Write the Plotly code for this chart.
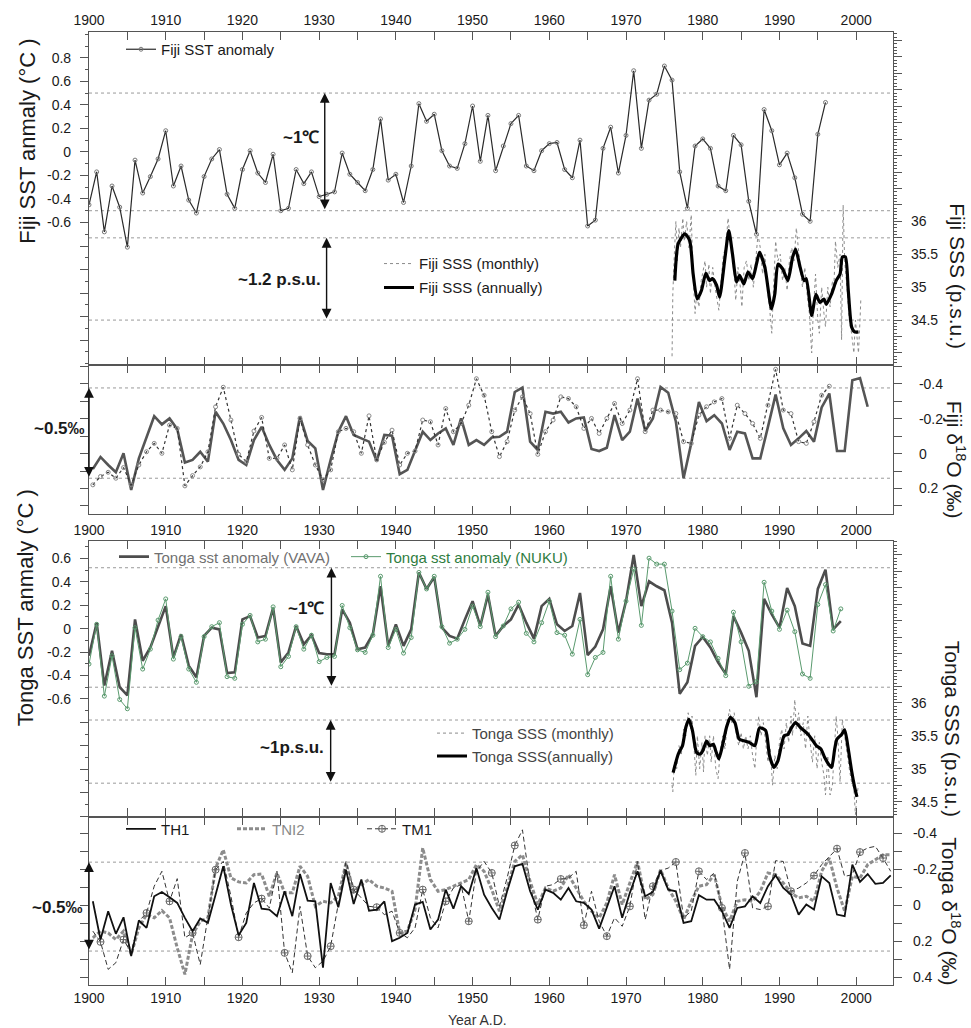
import plotly.graph_objects as go

# ------------------------------------------------------------------ data
fiji_sst_years = list(range(1900, 1997))
fiji_sst = [-0.45, -0.17, -0.68, -0.29, -0.47, -0.81, -0.07, -0.35, -0.21, -0.06,
            0.18, -0.29, -0.12, -0.41, -0.52, -0.21, -0.06, 0.02, -0.36, -0.48,
            -0.15, 0.01, -0.18, -0.26, -0.02, -0.50, -0.48, -0.15, -0.27, -0.17,
            -0.38, -0.36, -0.34, -0.01, -0.19, -0.26, -0.33, -0.15, 0.28, -0.24,
            -0.19, -0.43, -0.12, 0.41, 0.26, 0.32, 0.01, -0.12, -0.14, 0.07,
            0.39, -0.08, 0.31, -0.16, 0.05, 0.24, 0.31, -0.12, -0.16, 0.01,
            0.07, 0.08, -0.15, -0.22, 0.10, -0.63, -0.58, 0.03, 0.21, -0.18,
            0.14, 0.69, 0.03, 0.44, 0.49, 0.73, 0.61, -0.17, -0.48, 0.05,
            0.11, 0.03, -0.29, -0.33, 0.14, 0.06, -0.42, -0.70, 0.36, 0.18,
            -0.11, -0.01, -0.22, -0.53, -0.59, 0.15, 0.42]

fiji_sss_month_t = [1976.0, 1976.1, 1976.3, 1976.5, 1976.7, 1976.9, 1977.1, 1977.4, 1977.6, 1977.9,
                    1978.2, 1978.5, 1978.7, 1979.0, 1979.2, 1979.5, 1979.8, 1980.1, 1980.3, 1980.5,
                    1980.8, 1981.0, 1981.3, 1981.6, 1981.9, 1982.1, 1982.4, 1982.7, 1983.0, 1983.3,
                    1983.6, 1983.9, 1984.1, 1984.3, 1984.6, 1984.9, 1985.1, 1985.4, 1985.7, 1986.0,
                    1986.3, 1986.6, 1986.9, 1987.2, 1987.5, 1987.8, 1988.1, 1988.4, 1988.7, 1989.0,
                    1989.2, 1989.5, 1989.8, 1990.1, 1990.4, 1990.7, 1991.0, 1991.3, 1991.6, 1991.9,
                    1992.2, 1992.5, 1992.8, 1993.0, 1993.3, 1993.6, 1993.9, 1994.2, 1994.4, 1994.7,
                    1995.0, 1995.2, 1995.5, 1995.8, 1996.0, 1996.3, 1996.6, 1996.9, 1997.1, 1997.3,
                    1997.6, 1997.9, 1998.1, 1998.3, 1998.5, 1998.8, 1999.1, 1999.4, 1999.7, 1999.9,
                    2000.1, 2000.3, 2000.5, 2000.6]
fiji_sss_month_v = [33.95, 34.9, 35.5, 36.0, 35.4, 35.9, 35.6, 36.05, 35.7, 36.0,
                    35.6, 36.1, 35.3, 34.6, 34.9, 34.7, 35.1, 35.3, 35.4, 35.0,
                    35.35, 34.9, 35.3, 35.0, 34.75, 34.65, 35.1, 35.5, 35.6, 36.05,
                    35.7, 35.4, 35.2, 34.8, 35.3, 35.0, 34.7, 35.3, 35.4, 35.1,
                    35.35, 35.0, 35.4, 35.8, 35.6, 35.2, 35.5, 35.0, 34.7, 34.3,
                    34.9, 35.7, 35.4, 35.5, 35.1, 35.3, 34.95, 35.4, 35.6, 35.4,
                    35.9, 35.5, 35.2, 35.0, 35.3, 34.9, 34.6, 34.0, 34.6, 35.2,
                    34.5, 34.3, 35.0, 34.6, 34.4, 35.0, 34.7, 35.1, 35.0, 35.7,
                    35.3, 35.5, 34.2, 36.25, 35.4, 35.0, 34.5, 34.3, 34.0, 34.5,
                    34.2, 34.0, 34.5, 34.8]
fiji_sss_annual_t = [1976.36, 1976.8, 1977.66, 1978.3, 1978.75, 1979.27, 1979.83, 1980.4, 1980.9, 1981.27,
                     1981.8, 1982.2, 1982.9, 1983.4, 1983.88, 1984.4, 1984.8, 1985.36, 1985.9, 1986.5,
                     1987.0, 1987.4, 1988.1, 1988.96, 1989.4, 1989.8, 1990.4, 1991.1, 1991.7, 1992.1,
                     1992.7, 1993.2, 1993.5, 1994.2, 1994.75, 1995.27, 1995.8, 1996.1, 1996.8, 1997.4,
                     1997.9, 1998.2, 1998.6, 1998.97, 1999.4, 1999.8, 2000.3]
fiji_sss_annual_v = [35.10, 35.66, 35.81, 35.71, 35.20, 34.82, 34.95, 35.21, 35.10, 35.13,
                     35.03, 34.85, 35.45, 35.86, 35.50, 35.08, 35.18, 35.05, 35.23, 35.13,
                     35.35, 35.53, 35.30, 34.67, 34.90, 35.35, 35.28, 35.10, 35.45, 35.58,
                     35.30, 35.10, 35.13, 34.57, 34.89, 34.77, 34.82, 34.74, 34.90, 35.10,
                     35.20, 35.46, 35.46, 34.95, 34.40, 34.32, 34.32]

fiji_d18o_years = [y + 0.5 for y in range(1900, 2002)]
fiji_d18o_solid = [0.088, 0.019, 0.065, 0.107, -0.002, 0.208, 0.027, -0.088, -0.215, -0.168,
                   -0.202, -0.141, 0.051, 0.036, -0.011, 0.046, -0.240, -0.173, -0.078, 0.036,
                   0.065, -0.078, -0.154, -0.050, 0.036, 0.093, 0.027, -0.215, -0.073, -0.030,
                   0.208, 0.036, -0.126, -0.215, -0.107, -0.088, -0.069, 0.042, -0.107, -0.103,
                   0.118, 0.093, -0.011, -0.126, -0.078, -0.116, -0.145, -0.050, -0.202, -0.050,
                   -0.078, -0.050, -0.093, -0.097, -0.126, -0.354, -0.379, -0.069, -0.021, -0.240,
                   -0.230, -0.240, -0.179, -0.202, -0.208, -0.027, -0.015, -0.034, -0.221, -0.078,
                   -0.126, -0.316, -0.130, -0.202, -0.383, -0.350, -0.183, 0.141, -0.059, -0.297,
                   -0.187, -0.221, -0.173, -0.021, -0.126, -0.116, 0.027, 0.027, -0.154, -0.339,
                   -0.145, -0.050, -0.088, -0.130, -0.069, -0.265, -0.345, -0.015, -0.015, -0.421,
                   -0.434, -0.269]
fiji_d18o_dot_years = [y + 0.5 for y in range(1900, 1997)]
fiji_d18o_dotted = [0.179, 0.131, 0.107, 0.141, 0.080, 0.179, 0.065, -0.011, -0.059, -0.002,
                    -0.164, -0.145, 0.185, 0.126, 0.076, -0.011, -0.269, -0.381, -0.193, 0.004,
                    0.046, -0.130, -0.208, 0.027, 0.027, -0.050, 0.093, -0.202, -0.050, 0.065,
                    0.150, 0.093, -0.126, -0.145, -0.126, -0.002, -0.217, 0.036, -0.065, -0.135,
                    0.065, -0.002, -0.015, -0.193, -0.183, -0.050, -0.259, -0.126, -0.173, -0.278,
                    -0.430, -0.335, -0.126, 0.017, -0.069, -0.250, -0.326, -0.230, 0.004, -0.126,
                    -0.193, -0.326, -0.316, -0.269, -0.145, -0.202, -0.116, -0.202, -0.288, -0.173,
                    -0.250, -0.430, -0.126, -0.250, -0.250, -0.240, -0.230, -0.069, -0.059, -0.221,
                    -0.269, -0.297, -0.316, -0.088, -0.278, -0.230, -0.173, -0.088, -0.278, -0.484,
                    -0.250, -0.230, -0.069, -0.059, -0.183, -0.335, -0.387]

tonga_sst_years = list(range(1900, 1999))
tonga_vava = [-0.232, 0.051, -0.486, -0.189, -0.500, -0.570, 0.079, -0.274, -0.161, 0.023,
              0.192, -0.246, -0.048, -0.316, -0.415, -0.062, 0.008, -0.006, -0.379, -0.373,
              0.079, 0.107, -0.076, -0.062, 0.178, -0.288, -0.203, 0.023, -0.133, -0.056,
              -0.209, -0.218, -0.218, 0.164, 0.051, -0.175, -0.161, -0.048, 0.362, -0.147,
              0.037, -0.147, -0.006, 0.480, 0.339, 0.441, 0.008, -0.062, -0.085, 0.079,
              0.235, 0.023, 0.291, -0.062, 0.023, 0.079, 0.206, 0.051, -0.085, 0.192,
              0.254, 0.037, -0.020, 0.023, 0.305, -0.226, -0.153, -0.006, 0.362, -0.034,
              0.235, 0.630, 0.192, 0.404, 0.362, 0.328, 0.051, -0.557, -0.458, -0.147,
              -0.071, -0.161, -0.288, -0.387, 0.107, -0.034, -0.189, -0.585, 0.254, 0.121,
              0.008, 0.347, 0.192, -0.127, -0.147, 0.339, 0.503, -0.006, 0.065]
tonga_nuku = [-0.302, 0.037, -0.576, -0.232, -0.605, -0.684, 0.008, -0.345, -0.175, 0.073,
              0.254, -0.260, -0.068, -0.345, -0.458, -0.068, 0.017, 0.051, -0.410, -0.424,
              0.037, 0.113, -0.113, -0.090, 0.186, -0.325, -0.237, 0.017, -0.175, -0.056,
              -0.282, -0.246, -0.237, 0.198, 0.008, -0.181, -0.203, -0.056, 0.447, -0.161,
              -0.006, -0.209, -0.076, 0.480, 0.339, 0.447, 0.017, -0.124, -0.090, -0.006,
              0.192, 0.017, 0.311, -0.068, 0.023, 0.169, 0.226, -0.040, -0.113, 0.051,
              0.235, -0.034, -0.056, -0.218, 0.079, -0.393, -0.246, -0.203, 0.447, -0.090,
              0.235, 0.508, 0.028, 0.602, 0.551, 0.551, 0.150, -0.350, -0.294, 0.003,
              -0.068, -0.113, -0.254, -0.401, 0.141, -0.113, -0.492, -0.452, 0.396, 0.150,
              -0.006, 0.158, -0.026, -0.387, -0.424, 0.206, 0.376, -0.020, 0.169]

tonga_sss_month_t = [1976.0, 1976.1, 1976.3, 1976.6, 1976.9, 1977.2, 1977.5, 1977.8, 1978.1, 1978.4,
                     1978.6, 1978.9, 1979.1, 1979.3, 1979.6, 1979.9, 1980.1, 1980.3, 1980.6, 1980.9,
                     1981.1, 1981.4, 1981.7, 1982.0, 1982.3, 1982.6, 1982.9, 1983.2, 1983.5, 1983.8,
                     1984.1, 1984.4, 1984.7, 1985.0, 1985.3, 1985.6, 1985.9, 1986.2, 1986.5, 1986.8,
                     1987.0, 1987.3, 1987.6, 1987.9, 1988.2, 1988.5, 1988.8, 1989.1, 1989.4, 1989.7,
                     1990.0, 1990.3, 1990.6, 1990.9, 1991.2, 1991.5, 1991.7, 1992.0, 1992.2, 1992.5,
                     1992.8, 1993.1, 1993.4, 1993.7, 1994.0, 1994.3, 1994.6, 1994.9, 1995.2, 1995.5,
                     1995.8, 1996.0, 1996.3, 1996.6, 1996.9, 1997.1, 1997.4, 1997.6, 1997.9, 1998.2,
                     1998.5, 1998.8, 1999.1, 1999.4, 1999.7, 1999.9, 2000.1, 2000.3]
tonga_sss_month_v = [34.75, 34.65, 35.1, 35.0, 35.35, 35.2, 35.6, 35.5, 35.85, 35.6,
                     35.8, 35.3, 34.9, 35.5, 35.0, 35.4, 34.95, 35.5, 35.2, 35.5,
                     35.1, 35.5, 35.0, 34.85, 35.3, 35.5, 35.3, 35.7, 35.9, 35.7,
                     35.85, 35.5, 35.35, 35.55, 35.3, 35.5, 35.3, 35.5, 35.2, 35.0,
                     35.4, 35.8, 35.5, 35.7, 35.4, 35.1, 35.3, 34.75, 35.2, 35.0,
                     35.4, 35.6, 35.3, 35.7, 35.4, 35.8, 35.5, 36.05, 35.6, 35.85,
                     35.5, 35.7, 35.3, 35.8, 35.4, 35.1, 35.5, 35.0, 35.4, 35.1,
                     34.9, 34.6, 35.2, 34.6, 34.75, 35.2, 35.8, 35.5, 34.8, 35.75,
                     35.5, 35.2, 35.0, 34.8, 34.7, 34.3, 34.6, 34.75]
tonga_sss_annual_t = [1976.14, 1976.8, 1977.36, 1977.8, 1978.2, 1978.66, 1979.18, 1979.6, 1980.0, 1980.5,
                      1980.9, 1981.4, 1981.7, 1982.1, 1982.7, 1983.1, 1983.6, 1984.2, 1984.75, 1985.5,
                      1986.05, 1986.8, 1987.4, 1988.2, 1988.7, 1989.27, 1989.8, 1990.6, 1991.1, 1991.6,
                      1992.1, 1992.7, 1993.2, 1993.75, 1994.2, 1994.8, 1995.4, 1995.9, 1996.4, 1996.8,
                      1997.2, 1997.5, 1998.1, 1998.5, 1998.97, 1999.4, 1999.8, 2000.1]
tonga_sss_annual_v = [34.94, 35.22, 35.35, 35.63, 35.75, 35.58, 35.25, 35.22, 35.27, 35.42,
                      35.35, 35.37, 35.27, 35.15, 35.42, 35.63, 35.78, 35.70, 35.45, 35.42,
                      35.40, 35.35, 35.62, 35.58, 35.20, 35.02, 35.12, 35.50, 35.52, 35.63,
                      35.70, 35.63, 35.58, 35.52, 35.45, 35.35, 35.30, 35.17, 35.07, 35.02,
                      35.30, 35.45, 35.52, 35.59, 35.30, 34.97, 34.72, 34.57]

tonga_d18o_years = [y + 0.5 for y in range(1900, 2005)]
th1 = [-0.022, 0.191, 0.033, 0.159, 0.067, 0.283, 0.085, 0.126, -0.050, -0.074,
       -0.044, -0.013, 0.070, 0.144, 0.074, 0.098, -0.059, -0.217, -0.004, 0.167,
       0.098, -0.124, 0.019, 0.024, 0.061, -0.078, 0.061, -0.174, -0.026, -0.022,
       0.348, -0.124, 0.011, -0.198, -0.007, -0.143, 0.030, 0.024, -0.022, 0.200,
       0.181, 0.154, -0.004, -0.019, 0.135, 0.080, -0.087, 0.019, -0.106, -0.063,
       -0.207, -0.059, 0.015, 0.080, -0.078, -0.217, -0.230, -0.078, 0.024, -0.087,
       -0.069, -0.031, -0.096, -0.022, -0.013, 0.024, 0.130, 0.006, -0.106, 0.070,
       -0.069, -0.189, -0.050, -0.074, -0.193, -0.087, -0.078, 0.098, 0.089, -0.056,
       -0.031, -0.031, 0.033, 0.126, 0.015, 0.006, -0.050, -0.013, -0.106, -0.167,
       -0.096, -0.059, 0.052, -0.004, 0.024, -0.161, -0.124, 0.052, 0.061, -0.226,
       -0.130, -0.174, -0.119, -0.124, -0.167]
tni2 = [0.181, 0.144, 0.154, 0.191, 0.144, 0.274, 0.126, 0.052, 0.070, 0.030,
        0.070, 0.237, 0.385, 0.163, 0.089, 0.070, -0.207, -0.309, -0.152, -0.130,
        -0.124, -0.170, -0.174, -0.050, -0.180, -0.069, -0.069, -0.217, -0.161, 0.006,
        -0.022, -0.013, -0.050, -0.235, -0.078, -0.115, -0.143, -0.106, -0.096, -0.078,
        0.154, 0.144, 0.024, -0.319, -0.143, -0.078, -0.087, -0.106, -0.124, -0.143,
        -0.226, -0.189, -0.087, 0.033, -0.096, -0.244, -0.281, -0.133, -0.004, -0.096,
        -0.078, -0.096, -0.170, -0.096, -0.022, 0.033, 0.070, -0.013, -0.170, -0.004,
        -0.124, -0.244, -0.031, -0.059, -0.198, -0.096, -0.022, 0.080, -0.022, -0.106,
        -0.115, -0.170, 0.006, 0.089, -0.022, -0.031, -0.022, -0.078, -0.180, -0.170,
        -0.124, -0.069, -0.041, -0.050, -0.022, -0.189, -0.263, -0.096, 0.033, -0.161,
        -0.152, -0.226, -0.254, -0.281, -0.281]
tm1 = [0.144, 0.204, 0.357, 0.320, 0.191, 0.265, 0.089, 0.043, -0.106, -0.189,
       -0.022, -0.148, 0.181, 0.154, 0.330, 0.070, -0.198, -0.244, -0.050, 0.178,
       0.043, -0.013, -0.037, 0.015, -0.189, 0.265, 0.376, 0.006, 0.283, 0.348,
       0.311, 0.228, -0.013, -0.244, -0.087, -0.041, 0.006, 0.011, 0.052, 0.033,
       0.154, 0.181, 0.126, -0.087, 0.070, 0.126, -0.022, -0.096, -0.115, 0.089,
       -0.189, -0.244, -0.180, 0.006, -0.152, -0.333, -0.420, -0.115, 0.080, -0.106,
       -0.115, -0.146, -0.152, -0.189, 0.111, -0.078, 0.089, 0.172, 0.070, 0.117,
       0.006, -0.244, 0.080, -0.106, -0.193, -0.207, -0.241, 0.070, 0.033, -0.189,
       -0.143, -0.180, 0.015, 0.357, -0.133, -0.291, 0.015, 0.024, 0.006, -0.248,
       -0.244, -0.078, -0.096, -0.124, -0.165, -0.226, -0.272, -0.315, -0.161, -0.170,
       -0.296, -0.319, -0.328, -0.263, -0.189]

year_ticks = [1900, 1910, 1920, 1930, 1940, 1950, 1960, 1970, 1980, 1990, 2000]
year_labels = ["1900", "1910", "1920", "1930", "1940", "1950", "1960", "1970", "1980", "1990", "2000"]
sst_ticks = [-1.6, -1.4, -1.2, -1.0, -0.8, -0.6, -0.4, -0.2, 0.0, 0.2, 0.4, 0.6, 0.8]
fiji_sst_labels = ["", "", "", "", "", "-0.6", "-0.4", "-0.2", "0", "0.2", "0.4", "0.6", "0.8"]
tonga_sst_labels = ["", "", "", "", "", "-0.6", "-0.4", "-0.2", "0", "0.2", "0.4", "0.6", ""]
sss_ticks = [34.0, 34.25, 34.5, 34.75, 35.0, 35.25, 35.5, 35.75, 36.0, 36.25, 36.5, 36.75,
             37.0, 37.25, 37.5, 37.75, 38.0, 38.25, 38.5, 38.75]
sss_labels = ["", "", "34.5", "", "35", "", "35.5", "", "36", "", "", "",
              "", "", "", "", "", "", "", ""]
d18o_ticks = [-0.5, -0.4, -0.3, -0.2, -0.1, 0.0, 0.1, 0.2, 0.3, 0.4]
d18o_labels = ["", "-0.4", "", "-0.2", "", "0", "", "0.2", "", "0.4"]

# reference (dotted) levels per panel
fiji_sst_ref = [0.5, -0.5]
fiji_sss_ref = [35.75, 34.5]
fiji_d18o_ref = [-0.377, 0.141]
tonga_sst_ref = [0.52, -0.5]
tonga_sss_ref = [35.74, 34.78]
tonga_d18o_ref = [-0.24, 0.255]

# ------------------------------------------------------------------ geometry
W, H = 971, 1028
ML, MR, MT, MB = 89, 78, 29, 43
PW, PH = W - ML - MR, H - MT - MB


def xp(px):
    return (px - ML) / PW


def yp(py):
    return (H - MB - py) / PH


FONT = 'Arial, "Liberation Sans", sans-serif'
AX = '#555555'
TXT = '#1a1a1a'

fig = go.Figure()

# Fiji SST
fig.add_trace(go.Scatter(x=fiji_sst_years, y=fiji_sst, xaxis='x', yaxis='y', mode='lines+markers',
                         name='Fiji SST anomaly', legend='legend',
                         line=dict(color='#2a2a2a', width=1.2),
                         marker=dict(symbol='circle-open', size=4, color='#777777', line=dict(width=1))))
# Fiji SSS
fig.add_trace(go.Scatter(x=fiji_sss_month_t, y=fiji_sss_month_v, xaxis='x', yaxis='y2', mode='lines',
                         name='Fiji SSS (monthly)', legend='legend2',
                         line=dict(color='#8a8a8a', width=1, dash='dot')))
fig.add_trace(go.Scatter(x=fiji_sss_annual_t, y=fiji_sss_annual_v, xaxis='x', yaxis='y2', mode='lines',
                         name='Fiji SSS (annually)', legend='legend3',
                         line=dict(color='#000000', width=3.2, shape='spline', smoothing=0.6)))
# Fiji d18O
fig.add_trace(go.Scatter(x=fiji_d18o_years, y=fiji_d18o_solid, xaxis='x2', yaxis='y3', mode='lines',
                         showlegend=False, line=dict(color='#555555', width=2.6)))
fig.add_trace(go.Scatter(x=fiji_d18o_dot_years, y=fiji_d18o_dotted, xaxis='x2', yaxis='y3',
                         mode='lines+markers', showlegend=False,
                         line=dict(color='#333333', width=1.2, dash='dot'),
                         marker=dict(symbol='circle-open', size=4, color='#888888', line=dict(width=1))))
# Tonga SST
fig.add_trace(go.Scatter(x=tonga_sst_years, y=tonga_vava, xaxis='x3', yaxis='y4', mode='lines',
                         name='Tonga sst anomaly (VAVA)', legend='legend4',
                         line=dict(color='#4d4d4d', width=2.6)))
fig.add_trace(go.Scatter(x=tonga_sst_years, y=tonga_nuku, xaxis='x3', yaxis='y4', mode='lines+markers',
                         name='Tonga sst anomaly (NUKU)', legend='legend5',
                         line=dict(color='#5a9a6e', width=1),
                         marker=dict(symbol='circle-open', size=4, color='#5a9a6e', line=dict(width=1))))
# Tonga SSS
fig.add_trace(go.Scatter(x=tonga_sss_month_t, y=tonga_sss_month_v, xaxis='x3', yaxis='y5', mode='lines',
                         name='Tonga SSS (monthly)', legend='legend6',
                         line=dict(color='#8a8a8a', width=1, dash='dot')))
fig.add_trace(go.Scatter(x=tonga_sss_annual_t, y=tonga_sss_annual_v, xaxis='x3', yaxis='y5', mode='lines',
                         name='Tonga SSS(annually)', legend='legend7',
                         line=dict(color='#000000', width=3.2, shape='spline', smoothing=0.6)))
# Tonga d18O
fig.add_trace(go.Scatter(x=tonga_d18o_years, y=tni2, xaxis='x4', yaxis='y6', mode='lines',
                         name='TNI2', legend='legend9',
                         line=dict(color='#8c8c8c', width=3, dash='4px,2px')))
fig.add_trace(go.Scatter(x=tonga_d18o_years, y=tm1, xaxis='x4', yaxis='y6', mode='lines',
                         showlegend=False, line=dict(color='#333333', width=1, dash='5px,3px')))
fig.add_trace(go.Scatter(x=tonga_d18o_years[1::3], y=tm1[1::3], xaxis='x4', yaxis='y6', mode='markers',
                         showlegend=False,
                         marker=dict(symbol='circle-cross-open', size=7, color='#666666', line=dict(width=1))))
fig.add_trace(go.Scatter(x=tonga_d18o_years, y=th1, xaxis='x4', yaxis='y6', mode='lines',
                         name='TH1', legend='legend8', line=dict(color='#111111', width=1.8)))
fig.add_trace(go.Scatter(x=[None], y=[None], xaxis='x4', yaxis='y6', mode='lines+markers',
                         name='TM1', legend='legend10',
                         line=dict(color='#333333', width=1, dash='5px,3px'),
                         marker=dict(symbol='circle-cross-open', size=7, color='#666666', line=dict(width=1))))

# ------------------------------------------------------------------ axes
D_FIJI_TOP = [yp(363), 1.0]
D_FIJI_D18 = [yp(513), yp(363)]
D_TONGA_TOP = [yp(816), yp(540)]
D_TONGA_D18 = [0.0, yp(816)]

tickfont = dict(family=FONT, size=14, color=TXT)


def xaxis(anchor, side, labels):
    return dict(domain=[0, 1], anchor=anchor, side=side, range=[1900, 2004.8],
                showgrid=False, zeroline=False, showline=True, linecolor=AX, linewidth=1.2,
                mirror='ticks', ticks='inside', ticklen=8, tickwidth=1, tickcolor=AX,
                tickmode='array', tickvals=year_ticks, ticktext=year_labels,
                showticklabels=labels, tickfont=tickfont,
                minor=dict(dtick=5, tick0=1900, ticks='inside', ticklen=8, tickcolor=AX, tickwidth=1))


def yaxis(domain, rng, side, ticks, labels, anchor, overlaying=None, mirror=False,
          minor_dtick=None, standoff=4):
    d = dict(domain=domain, range=rng, side=side, anchor=anchor,
             showgrid=False, zeroline=False, showline=True, linecolor=AX, linewidth=1.2,
             mirror=mirror, ticks='outside', ticklen=8, tickwidth=1, tickcolor=AX,
             tickmode='array', tickvals=ticks, ticktext=labels, tickfont=tickfont,
             ticklabelstandoff=standoff)
    if overlaying:
        d['overlaying'] = overlaying
        d.pop('domain')
    if minor_dtick:
        d['minor'] = dict(dtick=minor_dtick, ticks='outside', ticklen=3, tickcolor=AX, tickwidth=1)
    return d


layout = dict(
    width=W, height=H, autosize=False,
    margin=dict(l=ML, r=MR, t=MT, b=MB, pad=0),
    paper_bgcolor='white', plot_bgcolor='white',
    font=dict(family=FONT, color=TXT),
    xaxis=xaxis('y', 'top', True),
    xaxis2=xaxis('y3', 'bottom', False),
    xaxis3=xaxis('y4', 'top', True),
    xaxis4=xaxis('y6', 'bottom', True),
    yaxis=yaxis(D_FIJI_TOP, [-1.811, 1.019], 'left', sst_ticks, fiji_sst_labels, 'x',
                minor_dtick=0.1, standoff=6),
    yaxis2=yaxis(None, [33.818, 38.879], 'right', sss_ticks, sss_labels, 'x', overlaying='y',
                 minor_dtick=0.05, standoff=6),
    yaxis3=yaxis(D_FIJI_D18, [0.349, -0.509], 'right', d18o_ticks, d18o_labels, 'x2',
                 mirror='ticks', standoff=14),
    yaxis4=yaxis(D_TONGA_TOP, [-1.604, 0.745], 'left', sst_ticks, tonga_sst_labels, 'x3',
                 minor_dtick=0.1, standoff=6),
    yaxis5=yaxis(None, [34.273, 38.455], 'right', sss_ticks, sss_labels, 'x3', overlaying='y4',
                 minor_dtick=0.05, standoff=6),
    yaxis6=yaxis(D_TONGA_D18, [0.444, -0.494], 'right', d18o_ticks, d18o_labels, 'x4',
                 mirror='ticks', standoff=8),
)


def legend_at(text_x, cy, color=TXT):
    # text_x: left edge of the legend text, cy: vertical centre of the entry (pixels)
    return dict(x=xp(text_x - 41), y=yp(cy - 18), xanchor='left', yanchor='top',
                bgcolor='rgba(0,0,0,0)', borderwidth=0, orientation='v',
                font=dict(family=FONT, size=15, color=color))


layout['legend'] = legend_at(162, 48)
layout['legend2'] = legend_at(420, 263)
layout['legend3'] = legend_at(420, 287)
layout['legend4'] = legend_at(155, 557, '#707070')
layout['legend5'] = legend_at(387, 557, '#2f7d3f')
layout['legend6'] = legend_at(473, 734, '#444444')
layout['legend7'] = legend_at(473, 757, '#444444')
layout['legend8'] = legend_at(162, 830)
layout['legend9'] = legend_at(273, 830, '#8a8a8a')
layout['legend10'] = legend_at(403, 830)

# ------------------------------------------------------------------ reference lines
shapes = []
for axis_ref, levels in (('y', fiji_sst_ref), ('y2', fiji_sss_ref), ('y3', fiji_d18o_ref),
                         ('y4', tonga_sst_ref), ('y5', tonga_sss_ref), ('y6', tonga_d18o_ref)):
    for lv in levels:
        shapes.append(dict(type='line', xref='paper', x0=0, x1=1, yref=axis_ref, y0=lv, y1=lv,
                           line=dict(color='#9a9a9a', width=1, dash='dot'), layer='below'))
layout['shapes'] = shapes

# ------------------------------------------------------------------ annotations
ann = []


def darrow(xref, yref, x, y0, y1):
    ann.append(dict(xref=xref, yref=yref, axref=xref, ayref=yref, x=x, y=y0, ax=x, ay=y1,
                    text='', showarrow=True, arrowhead=2, startarrowhead=2, arrowside='end+start',
                    arrowsize=1.4, startarrowsize=1.4, arrowwidth=1.4, arrowcolor='#111111'))


darrow('x', 'y', 1930.73, fiji_sst_ref[0], fiji_sst_ref[1])
darrow('x', 'y2', 1930.97, fiji_sss_ref[0], fiji_sss_ref[1])
darrow('x2', 'y3', 1900.0, fiji_d18o_ref[0], fiji_d18o_ref[1])
darrow('x3', 'y4', 1931.6, tonga_sst_ref[0], tonga_sst_ref[1])
darrow('x3', 'y5', 1931.5, tonga_sss_ref[0], tonga_sss_ref[1])
darrow('x4', 'y6', 1900.0, tonga_d18o_ref[0], tonga_d18o_ref[1])


def label(text, px, py, xanchor='right', size=17, bold=True, angle=0, color=TXT):
    ann.append(dict(xref='paper', yref='paper', x=xp(px), y=yp(py), text=(f'<b>{text}</b>' if bold else text),
                    showarrow=False, xanchor=xanchor, yanchor='middle', textangle=angle,
                    font=dict(family=FONT, size=size, color=color)))


label('~1℃', 321, 135)
label('~1.2 p.s.u.', 323, 277)
label('~0.5‰', 87, 427)
label('~1℃', 326, 607)
label('~1p.s.u.', 326, 747)
label('~0.5‰', 85, 907)
label('Year A.D.', 477, 1020, xanchor='center', size=14, bold=False, color='#333333')
label('Fiji SST anmaly (°C )', 28, 139, xanchor='center', size=22, bold=False, angle=-90)
label('Tonga SST anmaly (°C )', 25, 607, xanchor='center', size=22, bold=False, angle=-90)
label('Fiji SSS (p.s.u.)', 958, 274, xanchor='center', size=21, bold=False, angle=90)
label('Fiji δ<sup>18</sup>O (‰)', 956, 458, xanchor='center', size=21, bold=False, angle=90)
label('Tonga SSS (p.s.u.)', 952, 728, xanchor='center', size=21, bold=False, angle=90)
label('Tonga δ<sup>18</sup>O (‰)', 951, 911, xanchor='center', size=21, bold=False, angle=90)
layout['annotations'] = ann

fig.update_layout(**layout)
fig.write_html("out.html")
